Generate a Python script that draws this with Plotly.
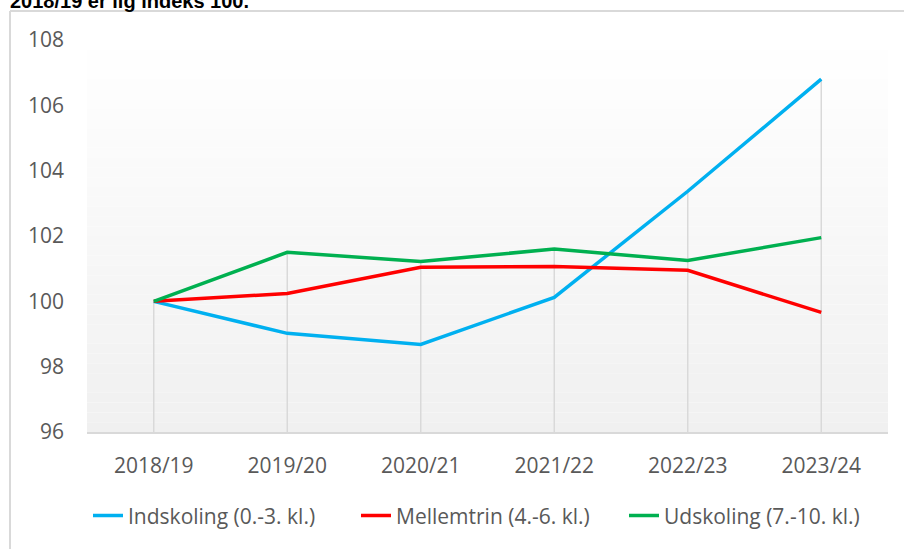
import plotly.graph_objects as go

categories = ["2018/19", "2019/20", "2020/21", "2021/22", "2022/23", "2023/24"]
indskoling = [100.0, 99.02, 98.68, 100.12, 103.37, 106.80]
mellemtrin = [100.0, 100.24, 101.04, 101.07, 100.95, 99.66]
udskoling = [100.0, 101.50, 101.22, 101.60, 101.25, 101.95]
names = ["Indskoling (0.-3. kl.)", "Mellemtrin (4.-6. kl.)", "Udskoling (7.-10. kl.)"]
colors = ["#00B0F0", "#FF0000", "#00B050"]
title_text = "2018/19 er lig indeks 100."
y_ticks = [96, 98, 100, 102, 104, 106, 108]

W, H = 904, 549
ML, MR, MT, MB = 87, 16, 40, 117
PW, PH = W - ML - MR, H - MT - MB

fig = go.Figure()
for name, vals, col in zip(names, [indskoling, mellemtrin, udskoling], colors):
    fig.add_trace(go.Scatter(x=categories, y=vals, name=name, mode="lines",
                             line=dict(color=col, width=3.5), hoverinfo="x+y+name"))

shapes = []
# gradient plot background (white at top -> light grey at bottom)
n = 40
for i in range(n):
    t = (i + 0.5) / n  # 0 top -> 1 bottom
    v = int(round(255 - (255 - 240) * t))
    shapes.append(dict(type="rect", xref="paper", yref="paper", x0=0, x1=1,
                       y0=1 - (i + 1) / n, y1=1 - i / n, line=dict(width=0),
                       fillcolor=f"rgb({v},{v},{v})", layer="below"))
# drop lines from highest point to axis
for i, c in enumerate(categories):
    top = max(indskoling[i], mellemtrin[i], udskoling[i])
    shapes.append(dict(type="line", xref="x", yref="y", x0=c, x1=c, y0=96, y1=top,
                       line=dict(color="#D9D9D9", width=1.5), layer="below"))
# outer chart frame (left and top edges)
fx = (10 - ML) / PW
fy = 1 + (MT - 11) / PH
shapes.append(dict(type="line", xref="paper", yref="paper", x0=fx, x1=fx, y0=fy, y1=-0.5,
                   line=dict(color="#D9D9D9", width=2)))
shapes.append(dict(type="line", xref="paper", yref="paper", x0=fx, x1=1.2, y0=fy, y1=fy,
                   line=dict(color="#D9D9D9", width=2)))

fig.update_layout(
    width=W, height=H,
    margin=dict(l=ML, r=MR, t=MT, b=MB, autoexpand=False),
    paper_bgcolor="white", plot_bgcolor="white",
    font=dict(family="Open Sans, Arial, sans-serif", color="#595959", size=21),
    shapes=shapes,
    showlegend=True,
    legend=dict(orientation="h", x=(88 - ML) / PW, xanchor="left", y=-0.214, yanchor="middle",
                font=dict(size=21, color="#595959"), entrywidth=223,
                bgcolor="rgba(0,0,0,0)", tracegroupgap=0),
    annotations=[dict(text=f"<b>{title_text}</b>", xref="paper", yref="paper",
                      x=(8 - ML) / PW, xanchor="left", y=1 + (MT - 1) / PH, yanchor="middle",
                      showarrow=False, font=dict(family="Liberation Sans, Arial", size=20, color="#000000"))],
    xaxis=dict(type="category", range=[-0.5, 5.5], showgrid=False, zeroline=False,
               showline=True, linecolor="#D9D9D9", linewidth=1.5, ticks="",
               ticklabelstandoff=14, tickfont=dict(size=21, color="#595959")),
    yaxis=dict(range=[96, 108], tickvals=y_ticks, showgrid=False, zeroline=False,
               showline=False, ticks="", ticklabelstandoff=22,
               tickfont=dict(size=21, color="#595959")),
)

fig.write_html("out.html", config={"displayModeBar": False},
               post_script="document.body.style.margin='0';")
